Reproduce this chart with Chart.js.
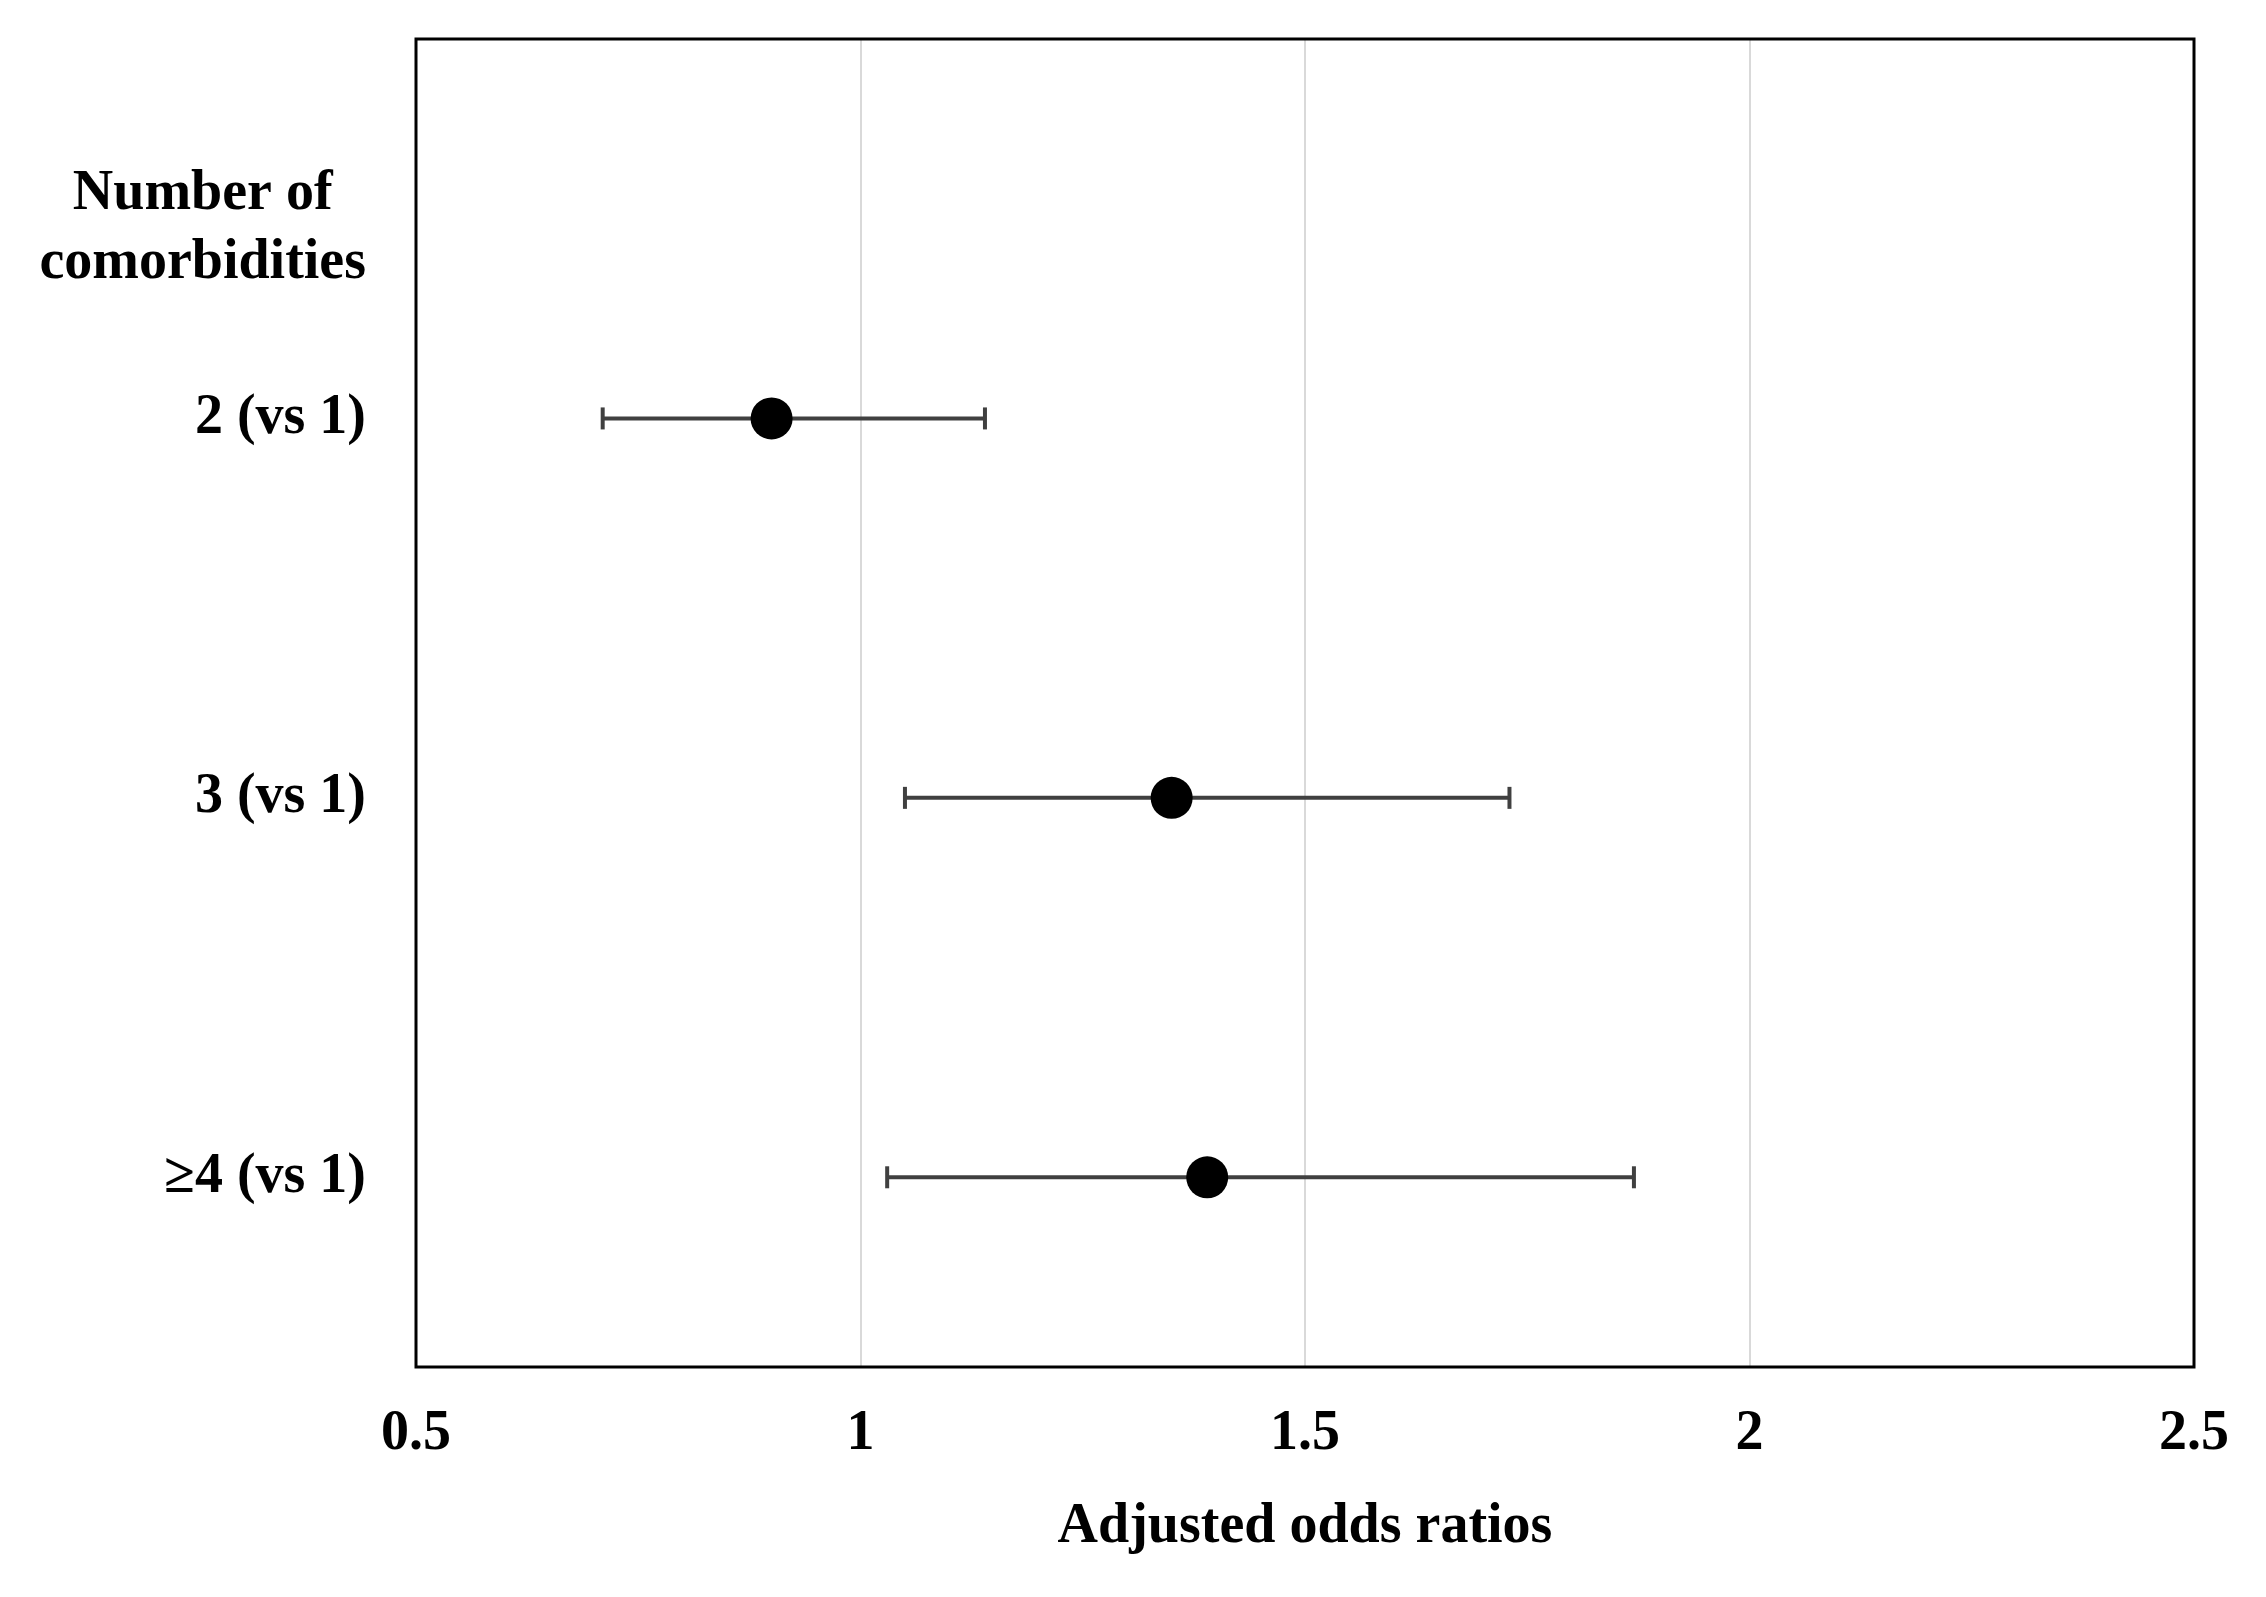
<!DOCTYPE html>
<html>
<head>
<meta charset="utf-8">
<script src="https://cdn.jsdelivr.net/npm/chart.js@4.4.0/dist/chart.umd.min.js"></script>
<style>
    html, body { margin: 0; padding: 0; background: #fff; }
    #wrap { width: 2266px; height: 1597px; }
</style>
</head>
<body>
<div id="wrap"><canvas id="chart" width="2266" height="1597"></canvas></div>
<script>
// Forest plot: adjusted odds ratios by number of comorbidities
const categories = ['2 (vs 1)', '3 (vs 1)', '\u22654 (vs 1)'];
const headerLabel = ['Number of', 'comorbidities'];
const oddsRatios = [0.90, 1.35, 1.39];
const lowerCI = [0.71, 1.05, 1.03];
const upperCI = [1.14, 1.73, 1.87];
const xTicks = [0.5, 1, 1.5, 2, 2.5];
const xTitle = 'Adjusted odds ratios';

const FONT = '"Liberation Serif", "Times New Roman", serif';
const BAR_COLOR = '#404040';

// one line dataset per row for the confidence interval, caps drawn as rotated line points
const errorBarSets = categories.map((cat, i) => ({
    type: 'line',
    label: cat + ' CI',
    data: [{ x: lowerCI[i], y: i + 1 }, { x: upperCI[i], y: i + 1 }],
    borderColor: BAR_COLOR,
    borderWidth: 4,
    pointStyle: 'line',
    rotation: 90,
    pointRadius: 11,
    pointBorderWidth: 4,
    pointBorderColor: BAR_COLOR,
    order: 2
}));

const pointSet = {
    type: 'scatter',
    label: 'Adjusted OR',
    data: oddsRatios.map((v, i) => ({ x: v, y: i + 1 })),
    backgroundColor: '#000',
    borderWidth: 0,
    pointRadius: 21,
    order: 1
};

// header text above the row labels
const headerPlugin = {
    id: 'header',
    afterDraw(chart) {
        const ctx = chart.ctx;
        const yScale = chart.scales.y;
        ctx.save();
        ctx.font = 'bold 56px ' + FONT;
        ctx.fillStyle = '#000';
        ctx.textAlign = 'center';
        ctx.textBaseline = 'middle';
        const w = Math.max(...headerLabel.map(t => ctx.measureText(t).width));
        const cx = yScale.right - 50 - w / 2;
        const cy = yScale.getPixelForValue(0.5);
        headerLabel.forEach((t, i) => {
            ctx.fillText(t, cx, cy + (i - (headerLabel.length - 1) / 2) * 69);
        });
        ctx.restore();
    }
};

// black box round the plot area
const framePlugin = {
    id: 'frame',
    afterDraw(chart) {
        const { ctx, chartArea: a } = chart;
        ctx.save();
        ctx.strokeStyle = '#000';
        ctx.lineWidth = 3;
        ctx.strokeRect(a.left, a.top, a.right - a.left, a.bottom - a.top);
        ctx.restore();
    }
};

new Chart(document.getElementById('chart'), {
    type: 'scatter',
    data: {
        datasets: [pointSet, ...errorBarSets]
    },
    options: {
        responsive: false,
        animation: false,
        devicePixelRatio: 1,
        layout: {
            padding: { left: 0, top: 39, right: 72, bottom: 0 }
        },
        scales: {
            x: {
                type: 'linear',
                min: 0.5,
                max: 2.5,
                afterBuildTicks: (scale) => {
                    scale.ticks = xTicks.map(v => ({ value: v }));
                },
                afterFit: (scale) => { scale.height = 230; },
                ticks: {
                    callback: (v) => String(v),
                    color: '#000',
                    padding: 34,
                    maxRotation: 0,
                    font: { family: FONT, size: 56, weight: 'bold' }
                },
                grid: {
                    color: '#d9d9d9',
                    lineWidth: 2,
                    drawTicks: false
                },
                border: { display: false },
                title: {
                    display: true,
                    text: xTitle,
                    color: '#000',
                    padding: { top: 0, bottom: 36 },
                    font: { family: FONT, size: 56, weight: 'bold' }
                }
            },
            y: {
                type: 'linear',
                reverse: true,
                min: 0,
                max: 3.5,
                afterBuildTicks: (scale) => {
                    scale.ticks = categories.map((c, i) => ({ value: i + 1 }));
                },
                afterFit: (scale) => {
                    scale.width = 416;
                    scale.paddingTop = 0;
                    scale.paddingBottom = 0;
                },
                ticks: {
                    callback: (v) => categories[v - 1],
                    color: '#000',
                    padding: 50,
                    font: { family: FONT, size: 56, weight: 'bold' }
                },
                grid: { display: false, drawTicks: false },
                border: { display: false }
            }
        },
        plugins: {
            legend: { display: false },
            tooltip: { enabled: false }
        }
    },
    plugins: [headerPlugin, framePlugin]
});
</script>
</body>
</html>
